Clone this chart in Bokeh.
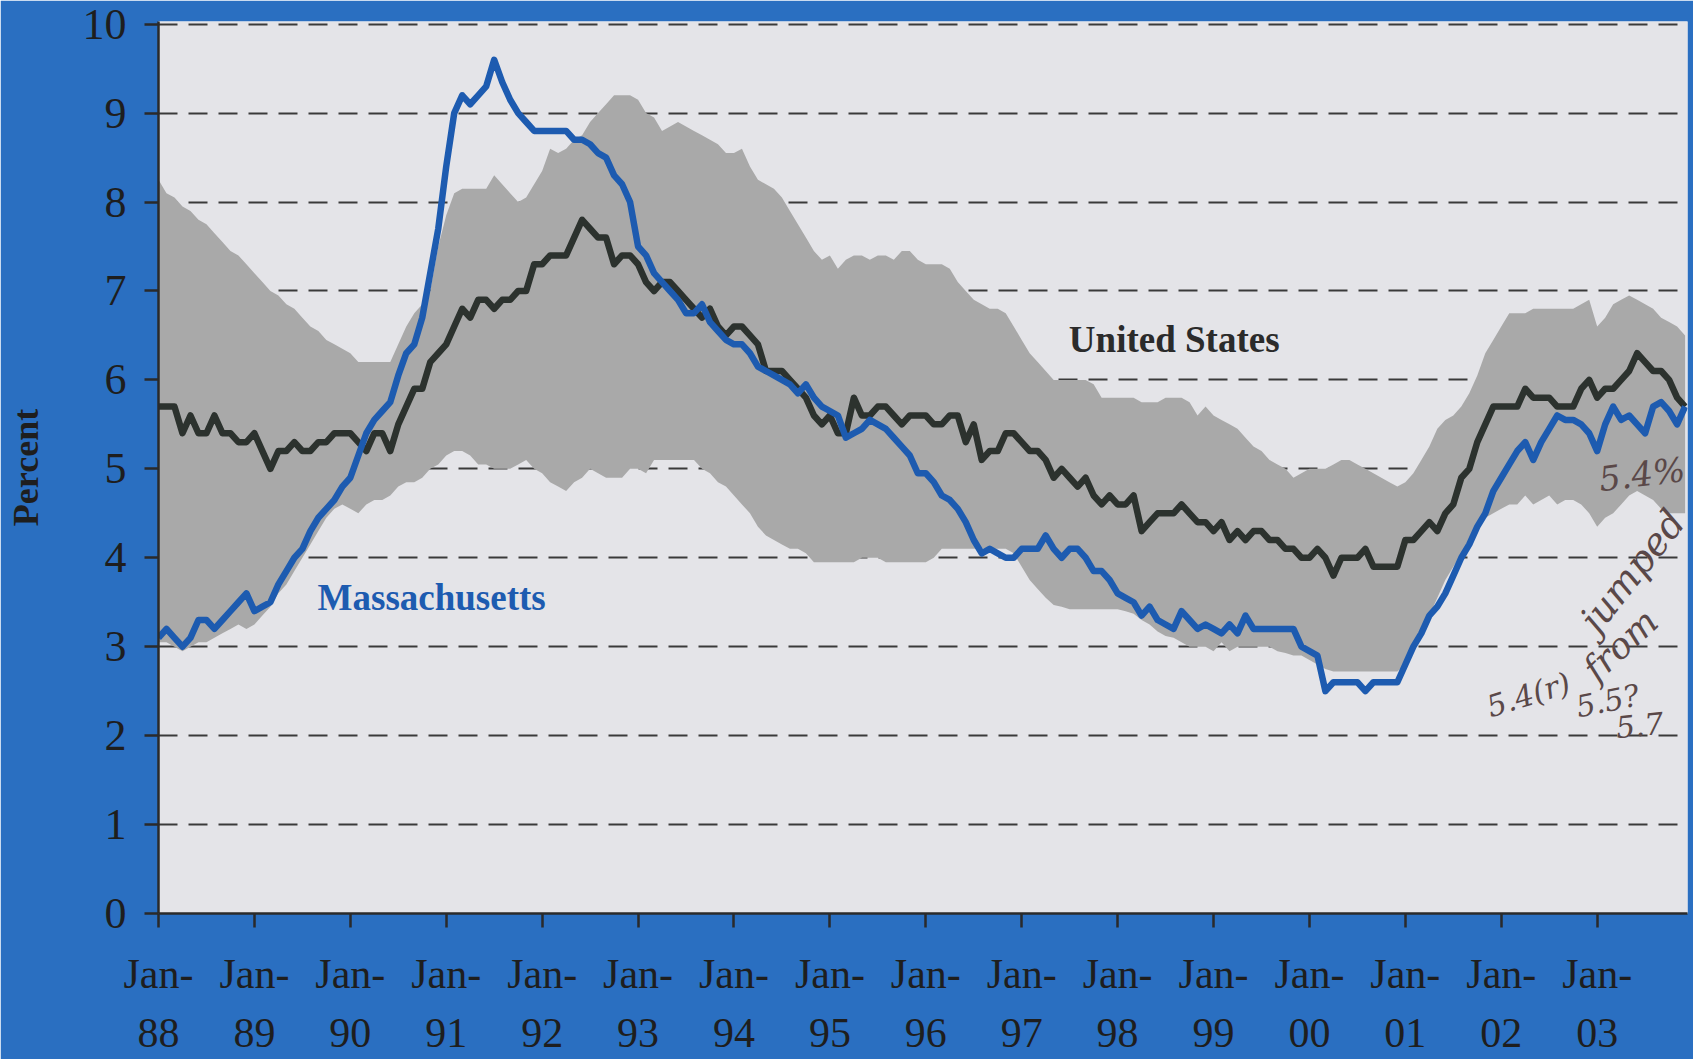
from bokeh.plotting import figure
from bokeh.models import FixedTicker, Range1d, ColumnDataSource
from bokeh.core.properties import value
from bokeh.embed import file_html
from bokeh.resources import INLINE

# ---------------- data (monthly, Jan-1988 .. Dec-2003) ----------------
year_labels = ["88", "89", "90", "91", "92", "93", "94", "95",
               "96", "97", "98", "99", "00", "01", "02", "03"]
y_ticks = [0, 1, 2, 3, 4, 5, 6, 7, 8, 9, 10]

us_rate = [
    5.7, 5.7, 5.7, 5.4, 5.6, 5.4, 5.4, 5.6, 5.4, 5.4, 5.3, 5.3,
    5.4, 5.2, 5.0, 5.2, 5.2, 5.3, 5.2, 5.2, 5.3, 5.3, 5.4, 5.4,
    5.4, 5.3, 5.2, 5.4, 5.4, 5.2, 5.5, 5.7, 5.9, 5.9, 6.2, 6.3,
    6.4, 6.6, 6.8, 6.7, 6.9, 6.9, 6.8, 6.9, 6.9, 7.0, 7.0, 7.3,
    7.3, 7.4, 7.4, 7.4, 7.6, 7.8, 7.7, 7.6, 7.6, 7.3, 7.4, 7.4,
    7.3, 7.1, 7.0, 7.1, 7.1, 7.0, 6.9, 6.8, 6.7, 6.8, 6.6, 6.5,
    6.6, 6.6, 6.5, 6.4, 6.1, 6.1, 6.1, 6.0, 5.9, 5.8, 5.6, 5.5,
    5.6, 5.4, 5.4, 5.8, 5.6, 5.6, 5.7, 5.7, 5.6, 5.5, 5.6, 5.6,
    5.6, 5.5, 5.5, 5.6, 5.6, 5.3, 5.5, 5.1, 5.2, 5.2, 5.4, 5.4,
    5.3, 5.2, 5.2, 5.1, 4.9, 5.0, 4.9, 4.8, 4.9, 4.7, 4.6, 4.7,
    4.6, 4.6, 4.7, 4.3, 4.4, 4.5, 4.5, 4.5, 4.6, 4.5, 4.4, 4.4,
    4.3, 4.4, 4.2, 4.3, 4.2, 4.3, 4.3, 4.2, 4.2, 4.1, 4.1, 4.0,
    4.0, 4.1, 4.0, 3.8, 4.0, 4.0, 4.0, 4.1, 3.9, 3.9, 3.9, 3.9,
    4.2, 4.2, 4.3, 4.4, 4.3, 4.5, 4.6, 4.9, 5.0, 5.3, 5.5, 5.7,
    5.7, 5.7, 5.7, 5.9, 5.8, 5.8, 5.8, 5.7, 5.7, 5.7, 5.9, 6.0,
    5.8, 5.9, 5.9, 6.0, 6.1, 6.3, 6.2, 6.1, 6.1, 6.0, 5.8, 5.7,
]

ma_rate = [
    3.1, 3.2, 3.1, 3.0, 3.1, 3.3, 3.3, 3.2, 3.3, 3.4, 3.5, 3.6,
    3.4, 3.45, 3.5, 3.7, 3.85, 4.0, 4.1, 4.3, 4.45, 4.55, 4.65, 4.8,
    4.9, 5.15, 5.4, 5.55, 5.65, 5.75, 6.05, 6.3, 6.4, 6.7, 7.2, 7.7,
    8.4, 9.0, 9.2, 9.1, 9.2, 9.3, 9.6, 9.35, 9.15, 9.0, 8.9, 8.8,
    8.8, 8.8, 8.8, 8.8, 8.7, 8.7, 8.65, 8.55, 8.5, 8.3, 8.2, 8.0,
    7.5, 7.4, 7.2, 7.1, 7.0, 6.9, 6.75, 6.75, 6.85, 6.65, 6.55, 6.45,
    6.4, 6.4, 6.3, 6.15, 6.1, 6.05, 6.0, 5.95, 5.85, 5.95, 5.8, 5.7,
    5.65, 5.6, 5.35, 5.4, 5.45, 5.55, 5.5, 5.45, 5.35, 5.25, 5.15, 4.95,
    4.95, 4.85, 4.7, 4.65, 4.55, 4.4, 4.2, 4.05, 4.1, 4.05, 4.0, 4.0,
    4.1, 4.1, 4.1, 4.25, 4.1, 4.0, 4.1, 4.1, 4.0, 3.85, 3.85, 3.75,
    3.6, 3.55, 3.5, 3.35, 3.45, 3.3, 3.25, 3.2, 3.4, 3.3, 3.2, 3.25,
    3.2, 3.15, 3.25, 3.15, 3.35, 3.2, 3.2, 3.2, 3.2, 3.2, 3.2, 3.0,
    2.95, 2.9, 2.5, 2.6, 2.6, 2.6, 2.6, 2.5, 2.6, 2.6, 2.6, 2.6,
    2.8, 3.0, 3.15, 3.35, 3.45, 3.6, 3.8, 4.0, 4.15, 4.35, 4.5, 4.75,
    4.9, 5.05, 5.2, 5.3, 5.1, 5.3, 5.45, 5.6, 5.55, 5.55, 5.5, 5.4,
    5.2, 5.5, 5.7, 5.55, 5.6, 5.5, 5.4, 5.7, 5.75, 5.65, 5.5, 5.7,
]

band_high = [
    8.25, 8.1, 8.05, 7.95, 7.9, 7.8, 7.75, 7.65, 7.55, 7.45, 7.4, 7.3,
    7.2, 7.1, 7.0, 6.95, 6.85, 6.8, 6.7, 6.6, 6.55, 6.45, 6.4, 6.35,
    6.3, 6.2, 6.2, 6.2, 6.2, 6.2, 6.4, 6.6, 6.75, 6.85, 7.0, 7.5,
    7.85, 8.1, 8.15, 8.15, 8.15, 8.15, 8.3, 8.2, 8.1, 8.0, 8.05, 8.2,
    8.35, 8.6, 8.55, 8.6, 8.7, 8.75, 8.9, 9.0, 9.1, 9.2, 9.2, 9.2,
    9.15, 9.0, 8.95, 8.8, 8.85, 8.9, 8.85, 8.8, 8.75, 8.7, 8.65, 8.55,
    8.55, 8.6, 8.4, 8.25, 8.2, 8.15, 8.05, 7.9, 7.75, 7.6, 7.45, 7.35,
    7.4, 7.25, 7.35, 7.4, 7.4, 7.35, 7.4, 7.4, 7.35, 7.45, 7.45, 7.35,
    7.3, 7.3, 7.3, 7.25, 7.1, 7.0, 6.9, 6.85, 6.8, 6.8, 6.75, 6.6,
    6.45, 6.3, 6.2, 6.1, 6.0, 6.0, 6.0, 6.0, 6.0, 5.95, 5.8, 5.8,
    5.8, 5.8, 5.8, 5.75, 5.75, 5.75, 5.8, 5.8, 5.8, 5.75, 5.6, 5.7,
    5.6, 5.55, 5.5, 5.45, 5.35, 5.25, 5.2, 5.1, 5.05, 5.0, 4.9, 4.95,
    5.0, 5.0, 5.0, 5.05, 5.1, 5.1, 5.05, 5.0, 4.95, 4.9, 4.85, 4.8,
    4.85, 4.95, 5.1, 5.25, 5.45, 5.55, 5.6, 5.7, 5.85, 6.05, 6.3, 6.45,
    6.6, 6.75, 6.75, 6.75, 6.8, 6.8, 6.8, 6.8, 6.8, 6.8, 6.85, 6.9,
    6.6, 6.7, 6.85, 6.9, 6.95, 6.9, 6.85, 6.8, 6.7, 6.65, 6.6, 6.5,
]

band_low = [
    3.05, 3.05, 3.0, 2.95, 3.0, 3.05, 3.05, 3.1, 3.15, 3.2, 3.25, 3.2,
    3.25, 3.35, 3.45, 3.6, 3.7, 3.85, 4.0, 4.15, 4.3, 4.45, 4.55, 4.6,
    4.55, 4.5, 4.6, 4.65, 4.65, 4.7, 4.8, 4.85, 4.85, 4.9, 5.0, 5.05,
    5.15, 5.2, 5.2, 5.15, 5.05, 5.05, 5.0, 5.0, 5.0, 5.05, 5.1, 5.0,
    4.95, 4.85, 4.8, 4.75, 4.85, 4.9, 5.0, 4.95, 4.9, 4.9, 4.9, 5.0,
    5.0, 4.95, 5.1, 5.1, 5.1, 5.1, 5.1, 5.1, 5.0, 4.95, 4.85, 4.8,
    4.7, 4.6, 4.5, 4.35, 4.25, 4.2, 4.15, 4.1, 4.1, 4.05, 3.95, 3.95,
    3.95, 3.95, 3.95, 3.95, 4.0, 4.0, 4.0, 3.95, 3.95, 3.95, 3.95, 3.95,
    3.95, 4.0, 4.1, 4.1, 4.1, 4.1, 4.1, 4.1, 4.1, 4.1, 4.1, 4.05,
    3.9, 3.75, 3.65, 3.55, 3.47, 3.45, 3.42, 3.42, 3.42, 3.42, 3.42, 3.42,
    3.42, 3.4, 3.37, 3.3, 3.25, 3.17, 3.12, 3.1, 3.05, 3.0, 3.0, 3.0,
    2.95, 3.05, 2.95, 3.0, 3.0, 3.0, 3.0, 3.0, 2.95, 2.93, 2.9, 2.9,
    2.85, 2.8, 2.75, 2.72, 2.72, 2.72, 2.72, 2.72, 2.72, 2.72, 2.72, 2.72,
    2.8, 2.95, 3.1, 3.35, 3.55, 3.75, 3.9, 4.05, 4.2, 4.3, 4.45, 4.5,
    4.55, 4.6, 4.6, 4.7, 4.6, 4.65, 4.7, 4.6, 4.65, 4.65, 4.6, 4.5,
    4.35, 4.45, 4.5, 4.6, 4.7, 4.75, 4.7, 4.65, 4.55, 4.5, 4.5, 4.5,
]

months = list(range(len(us_rate)))  # 0 = Jan-1988
year_ticks = [12 * i for i in range(len(year_labels))]

series_labels = ["United States", "Massachusetts"]
notes = ["5.4%", "jumped", "from", "5.4(r)", "5.5?", "5.7"]

# ---------------- figure ----------------
BLUE_BG = "#2a6fc1"
MA_BLUE = "#1d5bb0"
US_DARK = "#2c322e"
SERIF = "Liberation Serif"

p = figure(width=1693, height=1059, output_backend="svg", toolbar_location=None,
           x_range=Range1d(0, 191.3), y_range=Range1d(0, 10.03),
           min_border_left=158, min_border_right=6, min_border_top=21,
           min_border_bottom=144)
p.background_fill_color = "#e4e4e8"
p.border_fill_color = BLUE_BG
p.outline_line_color = None

src = ColumnDataSource(dict(m=months, us=us_rate, ma=ma_rate, lo=band_low, hi=band_high))

p.varea(x="m", y1="lo", y2="hi", source=src, fill_color="#a9a9a9", fill_alpha=1.0)
p.line(x="m", y="us", source=src, line_color=US_DARK, line_width=6.5, line_join="round")
p.line(x="m", y="ma", source=src, line_color=MA_BLUE, line_width=6.5, line_join="round")

# grid
p.xgrid.visible = False
p.ygrid.ticker = FixedTicker(ticks=y_ticks[1:])
p.ygrid.grid_line_color = "#3a3a3a"
p.ygrid.grid_line_width = 2
p.ygrid.grid_line_dash = "19 11"

# axes
p.xaxis.ticker = FixedTicker(ticks=year_ticks)
p.xaxis.major_label_overrides = {t: "Jan-\n" + lab for t, lab in zip(year_ticks, year_labels)}
p.yaxis.ticker = FixedTicker(ticks=y_ticks)
for ax in (p.xaxis, p.yaxis):
    ax.axis_line_color = "#2a2a2a"
    ax.axis_line_width = 2.5
    ax.major_tick_line_color = "#2a2a2a"
    ax.major_tick_line_width = 2.5
    ax.major_tick_in = 0
    ax.minor_tick_line_color = None
    ax.major_label_text_font = SERIF
    ax.major_label_text_color = "#1e1e1e"
p.xaxis.major_tick_out = 14
p.xaxis.major_label_text_font_size = "42px"
p.xaxis.major_label_text_line_height = 1.3
p.xaxis.major_label_standoff = 23
p.yaxis.major_tick_out = 14
p.yaxis.major_label_text_font_size = "44px"
p.yaxis.major_label_text_line_height = 0.95
p.yaxis.major_label_standoff = 18
p.yaxis.axis_label = "Percent"
p.yaxis.axis_label_text_font = SERIF
p.yaxis.axis_label_text_font_style = "bold"
p.yaxis.axis_label_text_font_size = "36px"
p.yaxis.axis_label_text_color = "#1e1e1e"
p.yaxis.axis_label_standoff = 34

# series labels
p.text(x=[113.9], y=[6.45], text=[series_labels[0]], text_font=value(SERIF),
       text_font_style="bold", text_font_size="37px", text_color="#2b2b2b",
       text_align="left", text_baseline="middle")
p.text(x=[19.9], y=[3.55], text=[series_labels[1]], text_font=value(SERIF),
       text_font_style="bold", text_font_size="37px", text_color=MA_BLUE,
       text_align="left", text_baseline="middle")

# handwritten notes
note_x = [185.6, 184.4, 182.9, 171.4, 181.3, 185.3]
note_y = [4.94, 3.85, 3.02, 2.46, 2.39, 2.12]
note_a = [0.12, 0.9, 0.75, 0.3, 0.2, 0.1]
note_s = ["34px", "38px", "36px", "30px", "30px", "30px"]
for nx, ny, nt, na, ns in zip(note_x, note_y, notes, note_a, note_s):
    p.text(x=[nx], y=[ny], text=[nt], angle=na, text_font=value("DejaVu Serif"),
           text_font_style="italic", text_font_size=ns, text_color="#5a4848",
           text_align="center", text_baseline="middle")

html = file_html(p, INLINE)
html = html.replace("<body>", '<body style="margin:0;background-color:%s;overflow:hidden;">' % BLUE_BG, 1)
open("out.html", "w").write(html)
